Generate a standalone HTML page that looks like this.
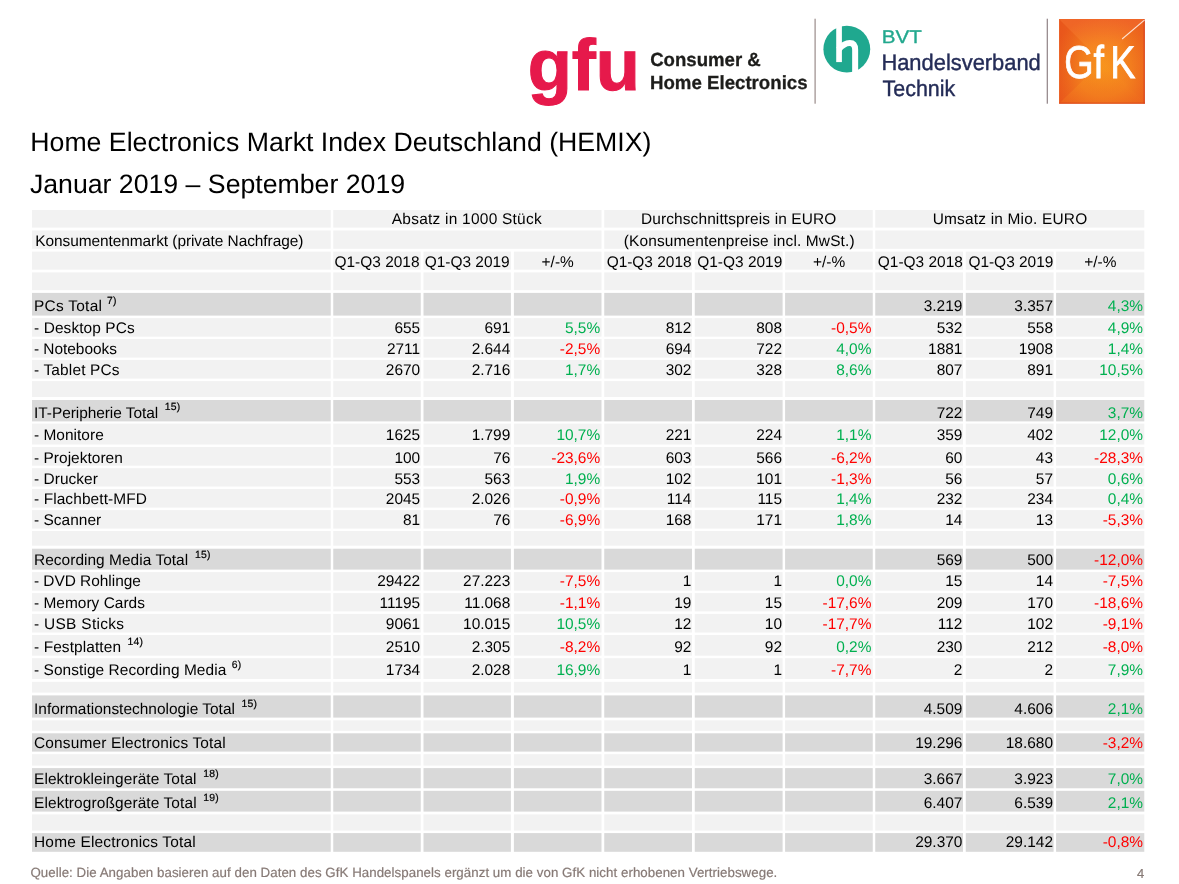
<!DOCTYPE html>
<html lang="de"><head><meta charset="utf-8"><title>HEMIX Q1-Q3 2019</title>
<style>
html,body{margin:0;padding:0;background:#fff;}
body{width:1179px;height:884px;overflow:hidden;position:relative;font-family:"Liberation Sans",Arial,sans-serif;}
svg{position:absolute;left:0;top:0;display:block}
text{font-family:"Liberation Sans",Arial,sans-serif;text-rendering:geometricPrecision;}
.t{font-size:15.45px;fill:#000}
.s{font-size:10.4px;fill:#000}
.e{text-anchor:end}
.m{text-anchor:middle}
</style></head><body>
<svg width="1179" height="884" viewBox="0 0 1179 884">

<defs>
<radialGradient id="gfkg" cx="0.52" cy="0.6" r="0.64">
<stop offset="0" stop-color="#f8971d"/>
<stop offset="0.5" stop-color="#f68b1f"/>
<stop offset="1" stop-color="#ef6c1e"/>
</radialGradient>
<linearGradient id="gfkl" x1="0" y1="0" x2="1" y2="0">
<stop offset="0" stop-color="#e03a18" stop-opacity="0.45"/>
<stop offset="1" stop-color="#e03a18" stop-opacity="0"/>
</linearGradient>
<linearGradient id="gfkt" x1="0" y1="0" x2="0" y2="1">
<stop offset="0" stop-color="#ef5a34" stop-opacity="0.4"/>
<stop offset="1" stop-color="#f0603a" stop-opacity="0"/>
</linearGradient>
<linearGradient id="gfkr" x1="1" y1="0" x2="0" y2="0">
<stop offset="0" stop-color="#e2441a" stop-opacity="0.3"/>
<stop offset="1" stop-color="#e2441a" stop-opacity="0"/>
</linearGradient>
<linearGradient id="gfkb" x1="0" y1="1" x2="0" y2="0">
<stop offset="0" stop-color="#e5481a" stop-opacity="0.3"/>
<stop offset="1" stop-color="#e5481a" stop-opacity="0"/>
</linearGradient>
</defs>
<!-- gfu -->
<text x="527.7" y="90" font-size="72.4" font-weight="bold" fill="#e6194b" stroke="#e6194b" stroke-width="1.1" textLength="112.3" lengthAdjust="spacingAndGlyphs">gfu</text>
<text x="650.2" y="66.3" font-size="19" font-weight="bold" fill="#1d1d1b" stroke="#1d1d1b" stroke-width="0.3" textLength="110.6" lengthAdjust="spacingAndGlyphs">Consumer &amp;</text>
<text x="650" y="89.1" font-size="19" font-weight="bold" fill="#1d1d1b" stroke="#1d1d1b" stroke-width="0.3" textLength="157.6" lengthAdjust="spacingAndGlyphs">Home Electronics</text>
<rect x="814.5" y="18.7" width="1.2" height="85" fill="#9a8c8a"/>
<!-- BVT -->
<circle cx="846.8" cy="49.15" r="23.4" fill="#1fa88f"/>
<path d="M839.05 22 V62.1" stroke="#fff" stroke-width="5.7" fill="none"/>
<path d="M838.6 49.6 C842.5 44.6 846.8 42.9 849.8 42.9 C853.6 42.9 855.15 45.6 855.15 49.8 V76" stroke="#fff" stroke-width="6" fill="none"/>
<text x="881.8" y="42.5" font-size="18.4" fill="#22a88e" stroke="#22a88e" stroke-width="0.35" textLength="40" lengthAdjust="spacingAndGlyphs">BVT</text>
<text x="881.4" y="70" font-size="22.4" fill="#242c57" stroke="#242c57" stroke-width="0.4" textLength="159.4" lengthAdjust="spacingAndGlyphs">Handelsverband</text>
<text x="882.6" y="96.4" font-size="22.4" fill="#242c57" stroke="#242c57" stroke-width="0.4" textLength="72.6" lengthAdjust="spacingAndGlyphs">Technik</text>
<rect x="1046.7" y="18.7" width="1.2" height="85" fill="#8f8286"/>
<!-- GfK -->
<rect x="1059.1" y="19" width="85.7" height="84.7" fill="url(#gfkg)"/>
<path d="M1059.1 19 L1102 62 L1059.1 103.7 Z" fill="url(#gfkl)"/>
<path d="M1059.1 19 L1144.8 19 L1102 62 Z" fill="url(#gfkt)"/>
<path d="M1144.8 19 L1144.8 103.7 L1102 62 Z" fill="url(#gfkr)"/>
<path d="M1059.1 103.7 L1144.8 103.7 L1102 62 Z" fill="url(#gfkb)"/>
<rect x="1143.6" y="19" width="1.2" height="84.7" fill="#d2381c" fill-opacity="0.7"/>
<rect x="1059.1" y="102.6" width="85.7" height="1.1" fill="#d2381c" fill-opacity="0.6"/>
<path d="M1144.6 19.2 L1144.8 20.6 L1122.4 39.4 L1121.8 38.6 Z" fill="#fff" fill-opacity="0.8"/>
<text transform="scale(0.82,1)" x="1298.0 1333.7 1354.0" y="77.8" font-size="46" fill="#fff" stroke="#fff" stroke-width="0.8">GfK</text>

<text x="30.3" y="150.8" font-size="26.68" fill="#000">Home Electronics Markt Index Deutschland (HEMIX)</text>
<text x="29.9" y="192.9" font-size="26.68" fill="#000">Januar 2019 – September 2019</text>
<g shape-rendering="auto">
<rect x="32.00" y="210.00" width="298.75" height="17.60" fill="#f2f2f2"/>
<rect x="333.25" y="210.00" width="268.25" height="17.60" fill="#f2f2f2"/>
<rect x="604.25" y="210.00" width="268.50" height="17.60" fill="#f2f2f2"/>
<rect x="875.25" y="210.00" width="269.05" height="17.60" fill="#f2f2f2"/>
<rect x="32.00" y="230.50" width="298.75" height="18.30" fill="#f2f2f2"/>
<rect x="333.25" y="230.50" width="268.25" height="18.30" fill="#f2f2f2"/>
<rect x="604.25" y="230.50" width="268.50" height="18.30" fill="#f2f2f2"/>
<rect x="875.25" y="230.50" width="269.05" height="18.30" fill="#f2f2f2"/>
<rect x="32.00" y="251.60" width="298.75" height="18.10" fill="#f2f2f2"/>
<rect x="333.25" y="251.60" width="87.50" height="18.10" fill="#f2f2f2"/>
<rect x="423.50" y="251.60" width="87.40" height="18.10" fill="#f2f2f2"/>
<rect x="513.90" y="251.60" width="87.60" height="18.10" fill="#f2f2f2"/>
<rect x="604.25" y="251.60" width="87.75" height="18.10" fill="#f2f2f2"/>
<rect x="694.75" y="251.60" width="87.85" height="18.10" fill="#f2f2f2"/>
<rect x="785.10" y="251.60" width="87.65" height="18.10" fill="#f2f2f2"/>
<rect x="875.25" y="251.60" width="87.75" height="18.10" fill="#f2f2f2"/>
<rect x="965.75" y="251.60" width="87.85" height="18.10" fill="#f2f2f2"/>
<rect x="1056.10" y="251.60" width="88.20" height="18.10" fill="#f2f2f2"/>
<rect x="32.00" y="272.40" width="298.75" height="17.80" fill="#f2f2f2"/>
<rect x="333.25" y="272.40" width="87.50" height="17.80" fill="#f2f2f2"/>
<rect x="423.50" y="272.40" width="87.40" height="17.80" fill="#f2f2f2"/>
<rect x="513.90" y="272.40" width="87.60" height="17.80" fill="#f2f2f2"/>
<rect x="604.25" y="272.40" width="87.75" height="17.80" fill="#f2f2f2"/>
<rect x="694.75" y="272.40" width="87.85" height="17.80" fill="#f2f2f2"/>
<rect x="785.10" y="272.40" width="87.65" height="17.80" fill="#f2f2f2"/>
<rect x="875.25" y="272.40" width="87.75" height="17.80" fill="#f2f2f2"/>
<rect x="965.75" y="272.40" width="87.85" height="17.80" fill="#f2f2f2"/>
<rect x="1056.10" y="272.40" width="88.20" height="17.80" fill="#f2f2f2"/>
<rect x="32.00" y="292.90" width="298.75" height="22.70" fill="#d9d9d9"/>
<rect x="333.25" y="292.90" width="87.50" height="22.70" fill="#d9d9d9"/>
<rect x="423.50" y="292.90" width="87.40" height="22.70" fill="#d9d9d9"/>
<rect x="513.90" y="292.90" width="87.60" height="22.70" fill="#d9d9d9"/>
<rect x="604.25" y="292.90" width="87.75" height="22.70" fill="#d9d9d9"/>
<rect x="694.75" y="292.90" width="87.85" height="22.70" fill="#d9d9d9"/>
<rect x="785.10" y="292.90" width="87.65" height="22.70" fill="#d9d9d9"/>
<rect x="875.25" y="292.90" width="87.75" height="22.70" fill="#d9d9d9"/>
<rect x="965.75" y="292.90" width="87.85" height="22.70" fill="#d9d9d9"/>
<rect x="1056.10" y="292.90" width="88.20" height="22.70" fill="#d9d9d9"/>
<rect x="32.00" y="318.10" width="298.75" height="18.60" fill="#f2f2f2"/>
<rect x="333.25" y="318.10" width="87.50" height="18.60" fill="#f2f2f2"/>
<rect x="423.50" y="318.10" width="87.40" height="18.60" fill="#f2f2f2"/>
<rect x="513.90" y="318.10" width="87.60" height="18.60" fill="#f2f2f2"/>
<rect x="604.25" y="318.10" width="87.75" height="18.60" fill="#f2f2f2"/>
<rect x="694.75" y="318.10" width="87.85" height="18.60" fill="#f2f2f2"/>
<rect x="785.10" y="318.10" width="87.65" height="18.60" fill="#f2f2f2"/>
<rect x="875.25" y="318.10" width="87.75" height="18.60" fill="#f2f2f2"/>
<rect x="965.75" y="318.10" width="87.85" height="18.60" fill="#f2f2f2"/>
<rect x="1056.10" y="318.10" width="88.20" height="18.60" fill="#f2f2f2"/>
<rect x="32.00" y="339.00" width="298.75" height="18.60" fill="#f2f2f2"/>
<rect x="333.25" y="339.00" width="87.50" height="18.60" fill="#f2f2f2"/>
<rect x="423.50" y="339.00" width="87.40" height="18.60" fill="#f2f2f2"/>
<rect x="513.90" y="339.00" width="87.60" height="18.60" fill="#f2f2f2"/>
<rect x="604.25" y="339.00" width="87.75" height="18.60" fill="#f2f2f2"/>
<rect x="694.75" y="339.00" width="87.85" height="18.60" fill="#f2f2f2"/>
<rect x="785.10" y="339.00" width="87.65" height="18.60" fill="#f2f2f2"/>
<rect x="875.25" y="339.00" width="87.75" height="18.60" fill="#f2f2f2"/>
<rect x="965.75" y="339.00" width="87.85" height="18.60" fill="#f2f2f2"/>
<rect x="1056.10" y="339.00" width="88.20" height="18.60" fill="#f2f2f2"/>
<rect x="32.00" y="359.90" width="298.75" height="18.70" fill="#f2f2f2"/>
<rect x="333.25" y="359.90" width="87.50" height="18.70" fill="#f2f2f2"/>
<rect x="423.50" y="359.90" width="87.40" height="18.70" fill="#f2f2f2"/>
<rect x="513.90" y="359.90" width="87.60" height="18.70" fill="#f2f2f2"/>
<rect x="604.25" y="359.90" width="87.75" height="18.70" fill="#f2f2f2"/>
<rect x="694.75" y="359.90" width="87.85" height="18.70" fill="#f2f2f2"/>
<rect x="785.10" y="359.90" width="87.65" height="18.70" fill="#f2f2f2"/>
<rect x="875.25" y="359.90" width="87.75" height="18.70" fill="#f2f2f2"/>
<rect x="965.75" y="359.90" width="87.85" height="18.70" fill="#f2f2f2"/>
<rect x="1056.10" y="359.90" width="88.20" height="18.70" fill="#f2f2f2"/>
<rect x="32.00" y="381.10" width="298.75" height="15.90" fill="#f2f2f2"/>
<rect x="333.25" y="381.10" width="87.50" height="15.90" fill="#f2f2f2"/>
<rect x="423.50" y="381.10" width="87.40" height="15.90" fill="#f2f2f2"/>
<rect x="513.90" y="381.10" width="87.60" height="15.90" fill="#f2f2f2"/>
<rect x="604.25" y="381.10" width="87.75" height="15.90" fill="#f2f2f2"/>
<rect x="694.75" y="381.10" width="87.85" height="15.90" fill="#f2f2f2"/>
<rect x="785.10" y="381.10" width="87.65" height="15.90" fill="#f2f2f2"/>
<rect x="875.25" y="381.10" width="87.75" height="15.90" fill="#f2f2f2"/>
<rect x="965.75" y="381.10" width="87.85" height="15.90" fill="#f2f2f2"/>
<rect x="1056.10" y="381.10" width="88.20" height="15.90" fill="#f2f2f2"/>
<rect x="32.00" y="400.00" width="298.75" height="21.40" fill="#d9d9d9"/>
<rect x="333.25" y="400.00" width="87.50" height="21.40" fill="#d9d9d9"/>
<rect x="423.50" y="400.00" width="87.40" height="21.40" fill="#d9d9d9"/>
<rect x="513.90" y="400.00" width="87.60" height="21.40" fill="#d9d9d9"/>
<rect x="604.25" y="400.00" width="87.75" height="21.40" fill="#d9d9d9"/>
<rect x="694.75" y="400.00" width="87.85" height="21.40" fill="#d9d9d9"/>
<rect x="785.10" y="400.00" width="87.65" height="21.40" fill="#d9d9d9"/>
<rect x="875.25" y="400.00" width="87.75" height="21.40" fill="#d9d9d9"/>
<rect x="965.75" y="400.00" width="87.85" height="21.40" fill="#d9d9d9"/>
<rect x="1056.10" y="400.00" width="88.20" height="21.40" fill="#d9d9d9"/>
<rect x="32.00" y="423.60" width="298.75" height="20.90" fill="#f2f2f2"/>
<rect x="333.25" y="423.60" width="87.50" height="20.90" fill="#f2f2f2"/>
<rect x="423.50" y="423.60" width="87.40" height="20.90" fill="#f2f2f2"/>
<rect x="513.90" y="423.60" width="87.60" height="20.90" fill="#f2f2f2"/>
<rect x="604.25" y="423.60" width="87.75" height="20.90" fill="#f2f2f2"/>
<rect x="694.75" y="423.60" width="87.85" height="20.90" fill="#f2f2f2"/>
<rect x="785.10" y="423.60" width="87.65" height="20.90" fill="#f2f2f2"/>
<rect x="875.25" y="423.60" width="87.75" height="20.90" fill="#f2f2f2"/>
<rect x="965.75" y="423.60" width="87.85" height="20.90" fill="#f2f2f2"/>
<rect x="1056.10" y="423.60" width="88.20" height="20.90" fill="#f2f2f2"/>
<rect x="32.00" y="447.00" width="298.75" height="18.70" fill="#f2f2f2"/>
<rect x="333.25" y="447.00" width="87.50" height="18.70" fill="#f2f2f2"/>
<rect x="423.50" y="447.00" width="87.40" height="18.70" fill="#f2f2f2"/>
<rect x="513.90" y="447.00" width="87.60" height="18.70" fill="#f2f2f2"/>
<rect x="604.25" y="447.00" width="87.75" height="18.70" fill="#f2f2f2"/>
<rect x="694.75" y="447.00" width="87.85" height="18.70" fill="#f2f2f2"/>
<rect x="785.10" y="447.00" width="87.65" height="18.70" fill="#f2f2f2"/>
<rect x="875.25" y="447.00" width="87.75" height="18.70" fill="#f2f2f2"/>
<rect x="965.75" y="447.00" width="87.85" height="18.70" fill="#f2f2f2"/>
<rect x="1056.10" y="447.00" width="88.20" height="18.70" fill="#f2f2f2"/>
<rect x="32.00" y="468.20" width="298.75" height="18.30" fill="#f2f2f2"/>
<rect x="333.25" y="468.20" width="87.50" height="18.30" fill="#f2f2f2"/>
<rect x="423.50" y="468.20" width="87.40" height="18.30" fill="#f2f2f2"/>
<rect x="513.90" y="468.20" width="87.60" height="18.30" fill="#f2f2f2"/>
<rect x="604.25" y="468.20" width="87.75" height="18.30" fill="#f2f2f2"/>
<rect x="694.75" y="468.20" width="87.85" height="18.30" fill="#f2f2f2"/>
<rect x="785.10" y="468.20" width="87.65" height="18.30" fill="#f2f2f2"/>
<rect x="875.25" y="468.20" width="87.75" height="18.30" fill="#f2f2f2"/>
<rect x="965.75" y="468.20" width="87.85" height="18.30" fill="#f2f2f2"/>
<rect x="1056.10" y="468.20" width="88.20" height="18.30" fill="#f2f2f2"/>
<rect x="32.00" y="489.00" width="298.75" height="18.60" fill="#f2f2f2"/>
<rect x="333.25" y="489.00" width="87.50" height="18.60" fill="#f2f2f2"/>
<rect x="423.50" y="489.00" width="87.40" height="18.60" fill="#f2f2f2"/>
<rect x="513.90" y="489.00" width="87.60" height="18.60" fill="#f2f2f2"/>
<rect x="604.25" y="489.00" width="87.75" height="18.60" fill="#f2f2f2"/>
<rect x="694.75" y="489.00" width="87.85" height="18.60" fill="#f2f2f2"/>
<rect x="785.10" y="489.00" width="87.65" height="18.60" fill="#f2f2f2"/>
<rect x="875.25" y="489.00" width="87.75" height="18.60" fill="#f2f2f2"/>
<rect x="965.75" y="489.00" width="87.85" height="18.60" fill="#f2f2f2"/>
<rect x="1056.10" y="489.00" width="88.20" height="18.60" fill="#f2f2f2"/>
<rect x="32.00" y="510.10" width="298.75" height="18.50" fill="#f2f2f2"/>
<rect x="333.25" y="510.10" width="87.50" height="18.50" fill="#f2f2f2"/>
<rect x="423.50" y="510.10" width="87.40" height="18.50" fill="#f2f2f2"/>
<rect x="513.90" y="510.10" width="87.60" height="18.50" fill="#f2f2f2"/>
<rect x="604.25" y="510.10" width="87.75" height="18.50" fill="#f2f2f2"/>
<rect x="694.75" y="510.10" width="87.85" height="18.50" fill="#f2f2f2"/>
<rect x="785.10" y="510.10" width="87.65" height="18.50" fill="#f2f2f2"/>
<rect x="875.25" y="510.10" width="87.75" height="18.50" fill="#f2f2f2"/>
<rect x="965.75" y="510.10" width="87.85" height="18.50" fill="#f2f2f2"/>
<rect x="1056.10" y="510.10" width="88.20" height="18.50" fill="#f2f2f2"/>
<rect x="32.00" y="531.00" width="298.75" height="14.70" fill="#f2f2f2"/>
<rect x="333.25" y="531.00" width="87.50" height="14.70" fill="#f2f2f2"/>
<rect x="423.50" y="531.00" width="87.40" height="14.70" fill="#f2f2f2"/>
<rect x="513.90" y="531.00" width="87.60" height="14.70" fill="#f2f2f2"/>
<rect x="604.25" y="531.00" width="87.75" height="14.70" fill="#f2f2f2"/>
<rect x="694.75" y="531.00" width="87.85" height="14.70" fill="#f2f2f2"/>
<rect x="785.10" y="531.00" width="87.65" height="14.70" fill="#f2f2f2"/>
<rect x="875.25" y="531.00" width="87.75" height="14.70" fill="#f2f2f2"/>
<rect x="965.75" y="531.00" width="87.85" height="14.70" fill="#f2f2f2"/>
<rect x="1056.10" y="531.00" width="88.20" height="14.70" fill="#f2f2f2"/>
<rect x="32.00" y="548.70" width="298.75" height="20.90" fill="#d9d9d9"/>
<rect x="333.25" y="548.70" width="87.50" height="20.90" fill="#d9d9d9"/>
<rect x="423.50" y="548.70" width="87.40" height="20.90" fill="#d9d9d9"/>
<rect x="513.90" y="548.70" width="87.60" height="20.90" fill="#d9d9d9"/>
<rect x="604.25" y="548.70" width="87.75" height="20.90" fill="#d9d9d9"/>
<rect x="694.75" y="548.70" width="87.85" height="20.90" fill="#d9d9d9"/>
<rect x="785.10" y="548.70" width="87.65" height="20.90" fill="#d9d9d9"/>
<rect x="875.25" y="548.70" width="87.75" height="20.90" fill="#d9d9d9"/>
<rect x="965.75" y="548.70" width="87.85" height="20.90" fill="#d9d9d9"/>
<rect x="1056.10" y="548.70" width="88.20" height="20.90" fill="#d9d9d9"/>
<rect x="32.00" y="572.10" width="298.75" height="18.60" fill="#f2f2f2"/>
<rect x="333.25" y="572.10" width="87.50" height="18.60" fill="#f2f2f2"/>
<rect x="423.50" y="572.10" width="87.40" height="18.60" fill="#f2f2f2"/>
<rect x="513.90" y="572.10" width="87.60" height="18.60" fill="#f2f2f2"/>
<rect x="604.25" y="572.10" width="87.75" height="18.60" fill="#f2f2f2"/>
<rect x="694.75" y="572.10" width="87.85" height="18.60" fill="#f2f2f2"/>
<rect x="785.10" y="572.10" width="87.65" height="18.60" fill="#f2f2f2"/>
<rect x="875.25" y="572.10" width="87.75" height="18.60" fill="#f2f2f2"/>
<rect x="965.75" y="572.10" width="87.85" height="18.60" fill="#f2f2f2"/>
<rect x="1056.10" y="572.10" width="88.20" height="18.60" fill="#f2f2f2"/>
<rect x="32.00" y="593.10" width="298.75" height="18.30" fill="#f2f2f2"/>
<rect x="333.25" y="593.10" width="87.50" height="18.30" fill="#f2f2f2"/>
<rect x="423.50" y="593.10" width="87.40" height="18.30" fill="#f2f2f2"/>
<rect x="513.90" y="593.10" width="87.60" height="18.30" fill="#f2f2f2"/>
<rect x="604.25" y="593.10" width="87.75" height="18.30" fill="#f2f2f2"/>
<rect x="694.75" y="593.10" width="87.85" height="18.30" fill="#f2f2f2"/>
<rect x="785.10" y="593.10" width="87.65" height="18.30" fill="#f2f2f2"/>
<rect x="875.25" y="593.10" width="87.75" height="18.30" fill="#f2f2f2"/>
<rect x="965.75" y="593.10" width="87.85" height="18.30" fill="#f2f2f2"/>
<rect x="1056.10" y="593.10" width="88.20" height="18.30" fill="#f2f2f2"/>
<rect x="32.00" y="613.90" width="298.75" height="18.60" fill="#f2f2f2"/>
<rect x="333.25" y="613.90" width="87.50" height="18.60" fill="#f2f2f2"/>
<rect x="423.50" y="613.90" width="87.40" height="18.60" fill="#f2f2f2"/>
<rect x="513.90" y="613.90" width="87.60" height="18.60" fill="#f2f2f2"/>
<rect x="604.25" y="613.90" width="87.75" height="18.60" fill="#f2f2f2"/>
<rect x="694.75" y="613.90" width="87.85" height="18.60" fill="#f2f2f2"/>
<rect x="785.10" y="613.90" width="87.65" height="18.60" fill="#f2f2f2"/>
<rect x="875.25" y="613.90" width="87.75" height="18.60" fill="#f2f2f2"/>
<rect x="965.75" y="613.90" width="87.85" height="18.60" fill="#f2f2f2"/>
<rect x="1056.10" y="613.90" width="88.20" height="18.60" fill="#f2f2f2"/>
<rect x="32.00" y="635.00" width="298.75" height="20.70" fill="#f2f2f2"/>
<rect x="333.25" y="635.00" width="87.50" height="20.70" fill="#f2f2f2"/>
<rect x="423.50" y="635.00" width="87.40" height="20.70" fill="#f2f2f2"/>
<rect x="513.90" y="635.00" width="87.60" height="20.70" fill="#f2f2f2"/>
<rect x="604.25" y="635.00" width="87.75" height="20.70" fill="#f2f2f2"/>
<rect x="694.75" y="635.00" width="87.85" height="20.70" fill="#f2f2f2"/>
<rect x="785.10" y="635.00" width="87.65" height="20.70" fill="#f2f2f2"/>
<rect x="875.25" y="635.00" width="87.75" height="20.70" fill="#f2f2f2"/>
<rect x="965.75" y="635.00" width="87.85" height="20.70" fill="#f2f2f2"/>
<rect x="1056.10" y="635.00" width="88.20" height="20.70" fill="#f2f2f2"/>
<rect x="32.00" y="658.20" width="298.75" height="20.80" fill="#f2f2f2"/>
<rect x="333.25" y="658.20" width="87.50" height="20.80" fill="#f2f2f2"/>
<rect x="423.50" y="658.20" width="87.40" height="20.80" fill="#f2f2f2"/>
<rect x="513.90" y="658.20" width="87.60" height="20.80" fill="#f2f2f2"/>
<rect x="604.25" y="658.20" width="87.75" height="20.80" fill="#f2f2f2"/>
<rect x="694.75" y="658.20" width="87.85" height="20.80" fill="#f2f2f2"/>
<rect x="785.10" y="658.20" width="87.65" height="20.80" fill="#f2f2f2"/>
<rect x="875.25" y="658.20" width="87.75" height="20.80" fill="#f2f2f2"/>
<rect x="965.75" y="658.20" width="87.85" height="20.80" fill="#f2f2f2"/>
<rect x="1056.10" y="658.20" width="88.20" height="20.80" fill="#f2f2f2"/>
<rect x="32.00" y="681.80" width="298.75" height="10.80" fill="#f2f2f2"/>
<rect x="333.25" y="681.80" width="87.50" height="10.80" fill="#f2f2f2"/>
<rect x="423.50" y="681.80" width="87.40" height="10.80" fill="#f2f2f2"/>
<rect x="513.90" y="681.80" width="87.60" height="10.80" fill="#f2f2f2"/>
<rect x="604.25" y="681.80" width="87.75" height="10.80" fill="#f2f2f2"/>
<rect x="694.75" y="681.80" width="87.85" height="10.80" fill="#f2f2f2"/>
<rect x="785.10" y="681.80" width="87.65" height="10.80" fill="#f2f2f2"/>
<rect x="875.25" y="681.80" width="87.75" height="10.80" fill="#f2f2f2"/>
<rect x="965.75" y="681.80" width="87.85" height="10.80" fill="#f2f2f2"/>
<rect x="1056.10" y="681.80" width="88.20" height="10.80" fill="#f2f2f2"/>
<rect x="32.00" y="695.40" width="298.75" height="22.20" fill="#d9d9d9"/>
<rect x="333.25" y="695.40" width="87.50" height="22.20" fill="#d9d9d9"/>
<rect x="423.50" y="695.40" width="87.40" height="22.20" fill="#d9d9d9"/>
<rect x="513.90" y="695.40" width="87.60" height="22.20" fill="#d9d9d9"/>
<rect x="604.25" y="695.40" width="87.75" height="22.20" fill="#d9d9d9"/>
<rect x="694.75" y="695.40" width="87.85" height="22.20" fill="#d9d9d9"/>
<rect x="785.10" y="695.40" width="87.65" height="22.20" fill="#d9d9d9"/>
<rect x="875.25" y="695.40" width="87.75" height="22.20" fill="#d9d9d9"/>
<rect x="965.75" y="695.40" width="87.85" height="22.20" fill="#d9d9d9"/>
<rect x="1056.10" y="695.40" width="88.20" height="22.20" fill="#d9d9d9"/>
<rect x="32.00" y="720.30" width="298.75" height="10.50" fill="#f2f2f2"/>
<rect x="333.25" y="720.30" width="87.50" height="10.50" fill="#f2f2f2"/>
<rect x="423.50" y="720.30" width="87.40" height="10.50" fill="#f2f2f2"/>
<rect x="513.90" y="720.30" width="87.60" height="10.50" fill="#f2f2f2"/>
<rect x="604.25" y="720.30" width="87.75" height="10.50" fill="#f2f2f2"/>
<rect x="694.75" y="720.30" width="87.85" height="10.50" fill="#f2f2f2"/>
<rect x="785.10" y="720.30" width="87.65" height="10.50" fill="#f2f2f2"/>
<rect x="875.25" y="720.30" width="87.75" height="10.50" fill="#f2f2f2"/>
<rect x="965.75" y="720.30" width="87.85" height="10.50" fill="#f2f2f2"/>
<rect x="1056.10" y="720.30" width="88.20" height="10.50" fill="#f2f2f2"/>
<rect x="32.00" y="733.30" width="298.75" height="18.30" fill="#d9d9d9"/>
<rect x="333.25" y="733.30" width="87.50" height="18.30" fill="#d9d9d9"/>
<rect x="423.50" y="733.30" width="87.40" height="18.30" fill="#d9d9d9"/>
<rect x="513.90" y="733.30" width="87.60" height="18.30" fill="#d9d9d9"/>
<rect x="604.25" y="733.30" width="87.75" height="18.30" fill="#d9d9d9"/>
<rect x="694.75" y="733.30" width="87.85" height="18.30" fill="#d9d9d9"/>
<rect x="785.10" y="733.30" width="87.65" height="18.30" fill="#d9d9d9"/>
<rect x="875.25" y="733.30" width="87.75" height="18.30" fill="#d9d9d9"/>
<rect x="965.75" y="733.30" width="87.85" height="18.30" fill="#d9d9d9"/>
<rect x="1056.10" y="733.30" width="88.20" height="18.30" fill="#d9d9d9"/>
<rect x="32.00" y="754.20" width="298.75" height="11.40" fill="#f2f2f2"/>
<rect x="333.25" y="754.20" width="87.50" height="11.40" fill="#f2f2f2"/>
<rect x="423.50" y="754.20" width="87.40" height="11.40" fill="#f2f2f2"/>
<rect x="513.90" y="754.20" width="87.60" height="11.40" fill="#f2f2f2"/>
<rect x="604.25" y="754.20" width="87.75" height="11.40" fill="#f2f2f2"/>
<rect x="694.75" y="754.20" width="87.85" height="11.40" fill="#f2f2f2"/>
<rect x="785.10" y="754.20" width="87.65" height="11.40" fill="#f2f2f2"/>
<rect x="875.25" y="754.20" width="87.75" height="11.40" fill="#f2f2f2"/>
<rect x="965.75" y="754.20" width="87.85" height="11.40" fill="#f2f2f2"/>
<rect x="1056.10" y="754.20" width="88.20" height="11.40" fill="#f2f2f2"/>
<rect x="32.00" y="768.10" width="298.75" height="20.20" fill="#d9d9d9"/>
<rect x="333.25" y="768.10" width="87.50" height="20.20" fill="#d9d9d9"/>
<rect x="423.50" y="768.10" width="87.40" height="20.20" fill="#d9d9d9"/>
<rect x="513.90" y="768.10" width="87.60" height="20.20" fill="#d9d9d9"/>
<rect x="604.25" y="768.10" width="87.75" height="20.20" fill="#d9d9d9"/>
<rect x="694.75" y="768.10" width="87.85" height="20.20" fill="#d9d9d9"/>
<rect x="785.10" y="768.10" width="87.65" height="20.20" fill="#d9d9d9"/>
<rect x="875.25" y="768.10" width="87.75" height="20.20" fill="#d9d9d9"/>
<rect x="965.75" y="768.10" width="87.85" height="20.20" fill="#d9d9d9"/>
<rect x="1056.10" y="768.10" width="88.20" height="20.20" fill="#d9d9d9"/>
<rect x="32.00" y="790.80" width="298.75" height="20.80" fill="#d9d9d9"/>
<rect x="333.25" y="790.80" width="87.50" height="20.80" fill="#d9d9d9"/>
<rect x="423.50" y="790.80" width="87.40" height="20.80" fill="#d9d9d9"/>
<rect x="513.90" y="790.80" width="87.60" height="20.80" fill="#d9d9d9"/>
<rect x="604.25" y="790.80" width="87.75" height="20.80" fill="#d9d9d9"/>
<rect x="694.75" y="790.80" width="87.85" height="20.80" fill="#d9d9d9"/>
<rect x="785.10" y="790.80" width="87.65" height="20.80" fill="#d9d9d9"/>
<rect x="875.25" y="790.80" width="87.75" height="20.80" fill="#d9d9d9"/>
<rect x="965.75" y="790.80" width="87.85" height="20.80" fill="#d9d9d9"/>
<rect x="1056.10" y="790.80" width="88.20" height="20.80" fill="#d9d9d9"/>
<rect x="32.00" y="814.40" width="298.75" height="16.20" fill="#f2f2f2"/>
<rect x="333.25" y="814.40" width="87.50" height="16.20" fill="#f2f2f2"/>
<rect x="423.50" y="814.40" width="87.40" height="16.20" fill="#f2f2f2"/>
<rect x="513.90" y="814.40" width="87.60" height="16.20" fill="#f2f2f2"/>
<rect x="604.25" y="814.40" width="87.75" height="16.20" fill="#f2f2f2"/>
<rect x="694.75" y="814.40" width="87.85" height="16.20" fill="#f2f2f2"/>
<rect x="785.10" y="814.40" width="87.65" height="16.20" fill="#f2f2f2"/>
<rect x="875.25" y="814.40" width="87.75" height="16.20" fill="#f2f2f2"/>
<rect x="965.75" y="814.40" width="87.85" height="16.20" fill="#f2f2f2"/>
<rect x="1056.10" y="814.40" width="88.20" height="16.20" fill="#f2f2f2"/>
<rect x="32.00" y="833.10" width="298.75" height="18.70" fill="#d9d9d9"/>
<rect x="333.25" y="833.10" width="87.50" height="18.70" fill="#d9d9d9"/>
<rect x="423.50" y="833.10" width="87.40" height="18.70" fill="#d9d9d9"/>
<rect x="513.90" y="833.10" width="87.60" height="18.70" fill="#d9d9d9"/>
<rect x="604.25" y="833.10" width="87.75" height="18.70" fill="#d9d9d9"/>
<rect x="694.75" y="833.10" width="87.85" height="18.70" fill="#d9d9d9"/>
<rect x="785.10" y="833.10" width="87.65" height="18.70" fill="#d9d9d9"/>
<rect x="875.25" y="833.10" width="87.75" height="18.70" fill="#d9d9d9"/>
<rect x="965.75" y="833.10" width="87.85" height="18.70" fill="#d9d9d9"/>
<rect x="1056.10" y="833.10" width="88.20" height="18.70" fill="#d9d9d9"/>
</g>
<text class="t" x="391.80" y="224.30" style="letter-spacing:0.253px">Absatz in 1000 Stück</text>
<text class="t" x="640.90" y="224.30" style="letter-spacing:0.131px">Durchschnittspreis in EURO</text>
<text class="t" x="932.70" y="224.30" style="letter-spacing:0.195px">Umsatz in Mio. EURO</text>
<text class="t" x="35.20" y="245.90" style="letter-spacing:-0.060px">Konsumentenmarkt (private Nachfrage)</text>
<text class="t" x="623.70" y="245.90" style="letter-spacing:0.147px">(Konsumentenpreise incl. MwSt.)</text>
<text class="t m" x="377.00" y="266.60">Q1-Q3 2018</text>
<text class="t m" x="467.20" y="266.60">Q1-Q3 2019</text>
<text class="t m" x="557.70" y="266.60">+/-%</text>
<text class="t m" x="649.12" y="266.60">Q1-Q3 2018</text>
<text class="t m" x="739.77" y="266.60">Q1-Q3 2019</text>
<text class="t m" x="829.12" y="266.60">+/-%</text>
<text class="t m" x="920.33" y="266.60">Q1-Q3 2018</text>
<text class="t m" x="1010.88" y="266.60">Q1-Q3 2019</text>
<text class="t m" x="1100.30" y="266.60">+/-%</text>
<text class="t" x="34.00" y="311.40" style="letter-spacing:0.271px">PCs Total</text>
<text class="s" x="107.10" y="304.10" style="letter-spacing:0.25px;stroke:#000;stroke-width:0.2px">7)</text>
<text class="t e" x="962.40" y="311.40" style="fill:#000000">3.219</text>
<text class="t e" x="1053.00" y="311.40" style="fill:#000000">3.357</text>
<text class="t e" x="1143.00" y="311.40" style="fill:#00b050">4,3%</text>
<text class="t" x="34.00" y="332.60" style="letter-spacing:0.101px">- Desktop PCs</text>
<text class="t e" x="420.15" y="332.60" style="fill:#000000">655</text>
<text class="t e" x="510.30" y="332.60" style="fill:#000000">691</text>
<text class="t e" x="600.20" y="332.60" style="fill:#00b050">5,5%</text>
<text class="t e" x="691.40" y="332.60" style="fill:#000000">812</text>
<text class="t e" x="782.00" y="332.60" style="fill:#000000">808</text>
<text class="t e" x="871.45" y="332.60" style="fill:#ff0000">-0,5%</text>
<text class="t e" x="962.40" y="332.60" style="fill:#000000">532</text>
<text class="t e" x="1053.00" y="332.60" style="fill:#000000">558</text>
<text class="t e" x="1143.00" y="332.60" style="fill:#00b050">4,9%</text>
<text class="t" x="34.00" y="353.70" style="letter-spacing:-0.031px">- Notebooks</text>
<text class="t e" x="420.15" y="353.70" style="fill:#000000">2711</text>
<text class="t e" x="510.30" y="353.70" style="fill:#000000">2.644</text>
<text class="t e" x="600.20" y="353.70" style="fill:#ff0000">-2,5%</text>
<text class="t e" x="691.40" y="353.70" style="fill:#000000">694</text>
<text class="t e" x="782.00" y="353.70" style="fill:#000000">722</text>
<text class="t e" x="871.45" y="353.70" style="fill:#00b050">4,0%</text>
<text class="t e" x="962.40" y="353.70" style="fill:#000000">1881</text>
<text class="t e" x="1053.00" y="353.70" style="fill:#000000">1908</text>
<text class="t e" x="1143.00" y="353.70" style="fill:#00b050">1,4%</text>
<text class="t" x="34.00" y="374.60" style="letter-spacing:0.158px">- Tablet PCs</text>
<text class="t e" x="420.15" y="374.60" style="fill:#000000">2670</text>
<text class="t e" x="510.30" y="374.60" style="fill:#000000">2.716</text>
<text class="t e" x="600.20" y="374.60" style="fill:#00b050">1,7%</text>
<text class="t e" x="691.40" y="374.60" style="fill:#000000">302</text>
<text class="t e" x="782.00" y="374.60" style="fill:#000000">328</text>
<text class="t e" x="871.45" y="374.60" style="fill:#00b050">8,6%</text>
<text class="t e" x="962.40" y="374.60" style="fill:#000000">807</text>
<text class="t e" x="1053.00" y="374.60" style="fill:#000000">891</text>
<text class="t e" x="1143.00" y="374.60" style="fill:#00b050">10,5%</text>
<text class="t" x="34.00" y="417.60" style="letter-spacing:-0.044px">IT-Peripherie Total</text>
<text class="s" x="164.80" y="410.30" style="letter-spacing:0.25px;stroke:#000;stroke-width:0.2px">15)</text>
<text class="t e" x="962.40" y="417.60" style="fill:#000000">722</text>
<text class="t e" x="1053.00" y="417.60" style="fill:#000000">749</text>
<text class="t e" x="1143.00" y="417.60" style="fill:#00b050">3,7%</text>
<text class="t" x="34.00" y="439.50" style="letter-spacing:0.027px">- Monitore</text>
<text class="t e" x="420.15" y="439.50" style="fill:#000000">1625</text>
<text class="t e" x="510.30" y="439.50" style="fill:#000000">1.799</text>
<text class="t e" x="600.20" y="439.50" style="fill:#00b050">10,7%</text>
<text class="t e" x="691.40" y="439.50" style="fill:#000000">221</text>
<text class="t e" x="782.00" y="439.50" style="fill:#000000">224</text>
<text class="t e" x="871.45" y="439.50" style="fill:#00b050">1,1%</text>
<text class="t e" x="962.40" y="439.50" style="fill:#000000">359</text>
<text class="t e" x="1053.00" y="439.50" style="fill:#000000">402</text>
<text class="t e" x="1143.00" y="439.50" style="fill:#00b050">12,0%</text>
<text class="t" x="34.00" y="462.80" style="letter-spacing:0.037px">- Projektoren</text>
<text class="t e" x="420.15" y="462.80" style="fill:#000000">100</text>
<text class="t e" x="510.30" y="462.80" style="fill:#000000">76</text>
<text class="t e" x="600.20" y="462.80" style="fill:#ff0000">-23,6%</text>
<text class="t e" x="691.40" y="462.80" style="fill:#000000">603</text>
<text class="t e" x="782.00" y="462.80" style="fill:#000000">566</text>
<text class="t e" x="871.45" y="462.80" style="fill:#ff0000">-6,2%</text>
<text class="t e" x="962.40" y="462.80" style="fill:#000000">60</text>
<text class="t e" x="1053.00" y="462.80" style="fill:#000000">43</text>
<text class="t e" x="1143.00" y="462.80" style="fill:#ff0000">-28,3%</text>
<text class="t" x="34.00" y="483.60" style="letter-spacing:0.048px">- Drucker</text>
<text class="t e" x="420.15" y="483.60" style="fill:#000000">553</text>
<text class="t e" x="510.30" y="483.60" style="fill:#000000">563</text>
<text class="t e" x="600.20" y="483.60" style="fill:#00b050">1,9%</text>
<text class="t e" x="691.40" y="483.60" style="fill:#000000">102</text>
<text class="t e" x="782.00" y="483.60" style="fill:#000000">101</text>
<text class="t e" x="871.45" y="483.60" style="fill:#ff0000">-1,3%</text>
<text class="t e" x="962.40" y="483.60" style="fill:#000000">56</text>
<text class="t e" x="1053.00" y="483.60" style="fill:#000000">57</text>
<text class="t e" x="1143.00" y="483.60" style="fill:#00b050">0,6%</text>
<text class="t" x="34.00" y="503.70" style="letter-spacing:0.100px">- Flachbett-MFD</text>
<text class="t e" x="420.15" y="503.70" style="fill:#000000">2045</text>
<text class="t e" x="510.30" y="503.70" style="fill:#000000">2.026</text>
<text class="t e" x="600.20" y="503.70" style="fill:#ff0000">-0,9%</text>
<text class="t e" x="691.40" y="503.70" style="fill:#000000">114</text>
<text class="t e" x="782.00" y="503.70" style="fill:#000000">115</text>
<text class="t e" x="871.45" y="503.70" style="fill:#00b050">1,4%</text>
<text class="t e" x="962.40" y="503.70" style="fill:#000000">232</text>
<text class="t e" x="1053.00" y="503.70" style="fill:#000000">234</text>
<text class="t e" x="1143.00" y="503.70" style="fill:#00b050">0,4%</text>
<text class="t" x="34.00" y="524.60" style="letter-spacing:0.028px">- Scanner</text>
<text class="t e" x="420.15" y="524.60" style="fill:#000000">81</text>
<text class="t e" x="510.30" y="524.60" style="fill:#000000">76</text>
<text class="t e" x="600.20" y="524.60" style="fill:#ff0000">-6,9%</text>
<text class="t e" x="691.40" y="524.60" style="fill:#000000">168</text>
<text class="t e" x="782.00" y="524.60" style="fill:#000000">171</text>
<text class="t e" x="871.45" y="524.60" style="fill:#00b050">1,8%</text>
<text class="t e" x="962.40" y="524.60" style="fill:#000000">14</text>
<text class="t e" x="1053.00" y="524.60" style="fill:#000000">13</text>
<text class="t e" x="1143.00" y="524.60" style="fill:#ff0000">-5,3%</text>
<text class="t" x="34.00" y="565.40" style="letter-spacing:0.043px">Recording Media Total</text>
<text class="s" x="194.90" y="558.10" style="letter-spacing:0.25px;stroke:#000;stroke-width:0.2px">15)</text>
<text class="t e" x="962.40" y="565.40" style="fill:#000000">569</text>
<text class="t e" x="1053.00" y="565.40" style="fill:#000000">500</text>
<text class="t e" x="1143.00" y="565.40" style="fill:#ff0000">-12,0%</text>
<text class="t" x="34.00" y="586.40" style="letter-spacing:-0.033px">- DVD Rohlinge</text>
<text class="t e" x="420.15" y="586.40" style="fill:#000000">29422</text>
<text class="t e" x="510.30" y="586.40" style="fill:#000000">27.223</text>
<text class="t e" x="600.20" y="586.40" style="fill:#ff0000">-7,5%</text>
<text class="t e" x="691.40" y="586.40" style="fill:#000000">1</text>
<text class="t e" x="782.00" y="586.40" style="fill:#000000">1</text>
<text class="t e" x="871.45" y="586.40" style="fill:#00b050">0,0%</text>
<text class="t e" x="962.40" y="586.40" style="fill:#000000">15</text>
<text class="t e" x="1053.00" y="586.40" style="fill:#000000">14</text>
<text class="t e" x="1143.00" y="586.40" style="fill:#ff0000">-7,5%</text>
<text class="t" x="34.00" y="607.90" style="letter-spacing:0.020px">- Memory Cards</text>
<text class="t e" x="420.15" y="607.90" style="fill:#000000">11195</text>
<text class="t e" x="510.30" y="607.90" style="fill:#000000">11.068</text>
<text class="t e" x="600.20" y="607.90" style="fill:#ff0000">-1,1%</text>
<text class="t e" x="691.40" y="607.90" style="fill:#000000">19</text>
<text class="t e" x="782.00" y="607.90" style="fill:#000000">15</text>
<text class="t e" x="871.45" y="607.90" style="fill:#ff0000">-17,6%</text>
<text class="t e" x="962.40" y="607.90" style="fill:#000000">209</text>
<text class="t e" x="1053.00" y="607.90" style="fill:#000000">170</text>
<text class="t e" x="1143.00" y="607.90" style="fill:#ff0000">-18,6%</text>
<text class="t" x="34.00" y="628.60" style="letter-spacing:0.309px">- USB Sticks</text>
<text class="t e" x="420.15" y="628.60" style="fill:#000000">9061</text>
<text class="t e" x="510.30" y="628.60" style="fill:#000000">10.015</text>
<text class="t e" x="600.20" y="628.60" style="fill:#00b050">10,5%</text>
<text class="t e" x="691.40" y="628.60" style="fill:#000000">12</text>
<text class="t e" x="782.00" y="628.60" style="fill:#000000">10</text>
<text class="t e" x="871.45" y="628.60" style="fill:#ff0000">-17,7%</text>
<text class="t e" x="962.40" y="628.60" style="fill:#000000">112</text>
<text class="t e" x="1053.00" y="628.60" style="fill:#000000">102</text>
<text class="t e" x="1143.00" y="628.60" style="fill:#ff0000">-9,1%</text>
<text class="t" x="34.00" y="652.20" style="letter-spacing:0.102px">- Festplatten</text>
<text class="s" x="127.50" y="644.90" style="letter-spacing:0.25px;stroke:#000;stroke-width:0.2px">14)</text>
<text class="t e" x="420.15" y="652.20" style="fill:#000000">2510</text>
<text class="t e" x="510.30" y="652.20" style="fill:#000000">2.305</text>
<text class="t e" x="600.20" y="652.20" style="fill:#ff0000">-8,2%</text>
<text class="t e" x="691.40" y="652.20" style="fill:#000000">92</text>
<text class="t e" x="782.00" y="652.20" style="fill:#000000">92</text>
<text class="t e" x="871.45" y="652.20" style="fill:#00b050">0,2%</text>
<text class="t e" x="962.40" y="652.20" style="fill:#000000">230</text>
<text class="t e" x="1053.00" y="652.20" style="fill:#000000">212</text>
<text class="t e" x="1143.00" y="652.20" style="fill:#ff0000">-8,0%</text>
<text class="t" x="34.00" y="675.20" style="letter-spacing:0.069px">- Sonstige Recording Media</text>
<text class="s" x="231.80" y="667.90" style="letter-spacing:0.25px;stroke:#000;stroke-width:0.2px">6)</text>
<text class="t e" x="420.15" y="675.20" style="fill:#000000">1734</text>
<text class="t e" x="510.30" y="675.20" style="fill:#000000">2.028</text>
<text class="t e" x="600.20" y="675.20" style="fill:#00b050">16,9%</text>
<text class="t e" x="691.40" y="675.20" style="fill:#000000">1</text>
<text class="t e" x="782.00" y="675.20" style="fill:#000000">1</text>
<text class="t e" x="871.45" y="675.20" style="fill:#ff0000">-7,7%</text>
<text class="t e" x="962.40" y="675.20" style="fill:#000000">2</text>
<text class="t e" x="1053.00" y="675.20" style="fill:#000000">2</text>
<text class="t e" x="1143.00" y="675.20" style="fill:#00b050">7,9%</text>
<text class="t" x="34.00" y="713.90" style="letter-spacing:0.014px">Informationstechnologie Total</text>
<text class="s" x="241.50" y="706.60" style="letter-spacing:0.25px;stroke:#000;stroke-width:0.2px">15)</text>
<text class="t e" x="962.40" y="713.90" style="fill:#000000">4.509</text>
<text class="t e" x="1053.00" y="713.90" style="fill:#000000">4.606</text>
<text class="t e" x="1143.00" y="713.90" style="fill:#00b050">2,1%</text>
<text class="t" x="34.00" y="747.60" style="letter-spacing:0.165px">Consumer Electronics Total</text>
<text class="t e" x="962.40" y="747.60" style="fill:#000000">19.296</text>
<text class="t e" x="1053.00" y="747.60" style="fill:#000000">18.680</text>
<text class="t e" x="1143.00" y="747.60" style="fill:#ff0000">-3,2%</text>
<text class="t" x="34.00" y="784.40" style="letter-spacing:0.103px">Elektrokleingeräte Total</text>
<text class="s" x="203.30" y="777.10" style="letter-spacing:0.25px;stroke:#000;stroke-width:0.2px">18)</text>
<text class="t e" x="962.40" y="784.40" style="fill:#000000">3.667</text>
<text class="t e" x="1053.00" y="784.40" style="fill:#000000">3.923</text>
<text class="t e" x="1143.00" y="784.40" style="fill:#00b050">7,0%</text>
<text class="t" x="34.00" y="808.20" style="letter-spacing:0.109px">Elektrogroßgeräte Total</text>
<text class="s" x="203.30" y="800.90" style="letter-spacing:0.25px;stroke:#000;stroke-width:0.2px">19)</text>
<text class="t e" x="962.40" y="808.20" style="fill:#000000">6.407</text>
<text class="t e" x="1053.00" y="808.20" style="fill:#000000">6.539</text>
<text class="t e" x="1143.00" y="808.20" style="fill:#00b050">2,1%</text>
<text class="t" x="34.00" y="847.40" style="letter-spacing:0.199px">Home Electronics Total</text>
<text class="t e" x="962.40" y="847.40" style="fill:#000000">29.370</text>
<text class="t e" x="1053.00" y="847.40" style="fill:#000000">29.142</text>
<text class="t e" x="1143.00" y="847.40" style="fill:#ff0000">-0,8%</text>
<text x="30.40" y="876.5" font-size="13.3" fill="#877a76" stroke="#877a76" stroke-width="0.2" style="letter-spacing:0.047px">Quelle: Die Angaben basieren auf den Daten des GfK Handelspanels ergänzt um die von GfK nicht erhobenen Vertriebswege.</text>
<text x="1144.3" y="877.6" font-size="13" fill="#877a76" stroke="#877a76" stroke-width="0.2" text-anchor="end">4</text>
</svg></body></html>
